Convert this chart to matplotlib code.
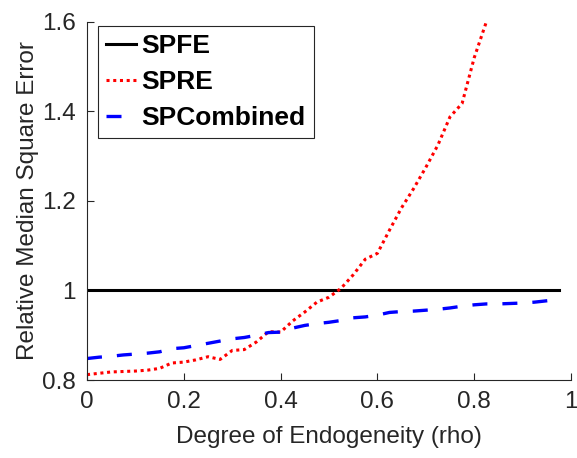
import numpy as np
from matplotlib import pyplot as plt

# rho grid and relative median square errors
rho = np.arange(40) * 0.025
spfe = np.ones(40)
spre = [0.812, 0.815, 0.818, 0.819, 0.820, 0.822, 0.826, 0.838, 0.840, 0.845,
        0.852, 0.846, 0.866, 0.868, 0.885, 0.908, 0.907, 0.932, 0.952, 0.974,
        0.985, 1.005, 1.035, 1.070, 1.083, 1.135, 1.185, 1.228, 1.275, 1.325,
        1.388, 1.418, 1.520, 1.600, 1.680]
spcomb = [0.848, 0.851, 0.853, 0.856, 0.858, 0.860, 0.863, 0.870, 0.872, 0.877,
          0.882, 0.887, 0.892, 0.895, 0.900, 0.906, 0.907, 0.916, 0.922, 0.926,
          0.929, 0.933, 0.939, 0.941, 0.945, 0.951, 0.953, 0.954, 0.956, 0.958,
          0.961, 0.965, 0.968, 0.970, 0.970, 0.971, 0.972, 0.974, 0.977, 0.980]
xticks = [0, 0.2, 0.4, 0.6, 0.8, 1]
yticks = [0.8, 1.0, 1.2, 1.4, 1.6]
ytick_labels = ['0.8', '1', '1.2', '1.4', '1.6']
xtick_labels = ['0', '0.2', '0.4', '0.6', '0.8', '1']

plt.rcParams['font.family'] = ['Liberation Sans', 'DejaVu Sans']
gray = '#262626'

fig = plt.figure(figsize=(5.77, 4.58), dpi=100)
ax = fig.add_axes([0.1508, 0.1703, 0.8388, 0.7817])

ax.plot(rho, spfe, c='k', lw=2.2, label='SPFE')
ax.plot(rho[:len(spre)], spre, c='#ff0000', lw=2.2, ls=(0, (1.0, 1.2)),
        label='SPRE')
ax.plot(rho, spcomb, c='#0000ff', lw=2.4, ls=(0, (4.5, 4.5)),
        label='SPCombined')

ax.set_xlim(0, 1)
ax.set_ylim(0.8, 1.6)
ax.set_xticks(xticks)
ax.set_xticklabels(xtick_labels)
ax.set_yticks(yticks)
ax.set_yticklabels(ytick_labels)
ax.tick_params(direction='in', length=5, width=0.8, colors=gray,
               labelsize=17.5, pad=8)
for s in ['top', 'right']:
    ax.spines[s].set_visible(False)
for s in ['left', 'bottom']:
    ax.spines[s].set_color(gray)
    ax.spines[s].set_linewidth(0.8)

ax.set_xlabel('Degree of Endogeneity (rho)', fontsize=17.5, color=gray,
              labelpad=9)
ax.set_ylabel('Relative Median Square Error', fontsize=17.5, color=gray,
              labelpad=2)

leg = ax.legend(loc='upper left', bbox_to_anchor=(0.023, 0.988),
                prop={'weight': 'bold', 'size': 19}, fancybox=False,
                framealpha=1, edgecolor=gray, handlelength=1.15,
                handletextpad=0.2, labelspacing=0.45, borderpad=0.3,
                borderaxespad=0)
leg.get_frame().set_linewidth(0.8)

plt.savefig('out.png', dpi=100)
